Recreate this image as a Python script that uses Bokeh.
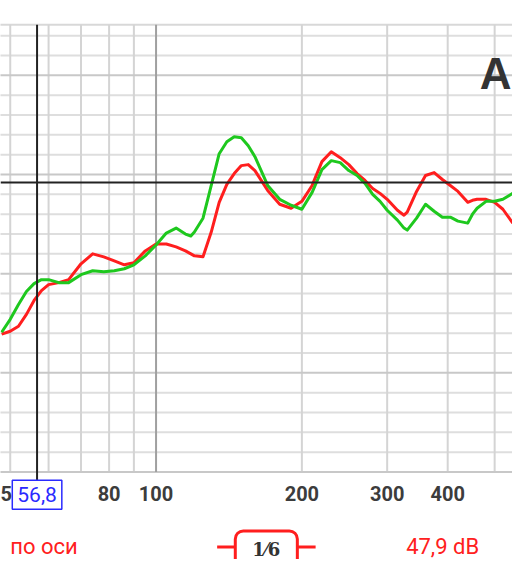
from bokeh.plotting import figure
from bokeh.models import Range1d, FixedTicker, Span, Label, LogAxis, NumeralTickFormatter
from bokeh.embed import file_html
from bokeh.resources import INLINE

# frequency (Hz)
freq = [48, 50, 52, 54, 56, 58, 60, 63, 66, 70, 74, 78, 82, 86, 90, 95, 100,
        105, 110, 115, 118, 120, 125, 130, 135, 140, 145, 150, 155, 160, 170,
        180, 190, 200, 210, 220, 230, 240, 250, 260, 270, 280, 290, 300, 315,
        325, 330, 345, 360, 375, 390, 405, 420, 440, 450, 460, 480, 500, 520, 545]

# green curve (dB)
green = [34.1, 35.4, 36.9, 38.2, 39.0, 39.4, 39.4, 39.1, 39.1, 39.9, 40.3, 40.2,
         40.3, 40.5, 40.9, 41.8, 42.9, 44.1, 44.6, 44.0, 43.8, 44.2, 45.6, 48.9,
         52.1, 53.3, 53.8, 53.7, 52.9, 51.8, 48.9, 47.5, 46.9, 46.5, 48.2, 50.5,
         51.4, 51.2, 50.4, 49.9, 49.1, 48.0, 47.3, 46.4, 45.4, 44.6, 44.4, 45.6,
         47.0, 46.3, 45.7, 45.7, 45.3, 45.1, 46.0, 46.6, 47.3, 47.3, 47.5, 48.1]

# red curve (dB)
red = [33.9, 34.2, 34.7, 35.9, 37.3, 38.3, 38.9, 39.1, 39.4, 41.0, 42.0, 41.7,
       41.3, 40.9, 41.1, 42.3, 43.0, 43.0, 42.7, 42.3, 42.0, 41.8, 41.7, 44.2,
       47.2, 49.0, 50.1, 50.9, 51.0, 50.4, 48.4, 47.0, 46.6, 47.3, 48.9, 51.3,
       52.3, 51.7, 51.0, 50.1, 49.4, 48.6, 48.1, 47.5, 46.4, 45.9, 46.2, 48.3,
       49.9, 50.2, 49.5, 48.9, 48.3, 47.2, 47.4, 47.5, 47.5, 47.2, 46.5, 45.1]

x_ticks = [50, 80, 100, 200, 300, 400]
x_minor_grid = [50, 60, 70, 80, 90, 200, 300, 400, 500]
x_major_grid = [100]
y_minor_grid = [22, 24, 26, 28, 32, 34, 36, 38, 42, 44, 46, 48, 52, 54, 56, 58, 62, 64]
y_major_grid = [20, 30, 40, 50, 60]
cursor_freq = 56.8
cursor_level = 49.19
cursor_label = "56,8"
level_label = "47,9 dB"
curve_label = "по оси"
smoothing_label = "1⁄6"
title_text = "А"

F_MIN, F_MAX = 47.74, 544.3
DB_MIN, DB_MAX = 11.18, 67.55
GRID_BOTTOM, GRID_TOP = 20.0, 65.1

p = figure(width=512, height=559, x_axis_type="log",
           x_axis_location=None, y_axis_location=None,
           x_range=Range1d(F_MIN, F_MAX), y_range=Range1d(DB_MIN, DB_MAX),
           output_backend="svg", toolbar_location=None, min_border=0)
p.outline_line_color = None
p.background_fill_color = "white"
p.border_fill_color = "white"
for g in p.grid:
    g.visible = False

# horizontal grid lines
p.segment(x0=[40] * len(y_minor_grid), y0=y_minor_grid, x1=[600] * len(y_minor_grid),
          y1=y_minor_grid, line_color="#dedede", line_width=2)
p.segment(x0=[40], y0=[GRID_TOP], x1=[600], y1=[GRID_TOP], line_color="#d8d8d8", line_width=2)
# vertical grid lines
p.segment(x0=x_minor_grid, y0=[GRID_BOTTOM] * len(x_minor_grid), x1=x_minor_grid,
          y1=[GRID_TOP] * len(x_minor_grid), line_color="#d4d4d4", line_width=2)
p.segment(x0=[40] * len(y_major_grid), y0=y_major_grid, x1=[600] * len(y_major_grid),
          y1=y_major_grid, line_color="#c8c8c8", line_width=2)
p.segment(x0=x_major_grid, y0=[GRID_BOTTOM], x1=x_major_grid, y1=[GRID_TOP],
          line_color="#a0a0a0", line_width=2)

# axis (tick labels only)
ax = LogAxis(fixed_location=GRID_BOTTOM, ticker=FixedTicker(ticks=x_ticks),
             formatter=NumeralTickFormatter(format="0"))
ax.axis_line_color = None
ax.major_tick_line_color = None
ax.minor_tick_line_color = None
ax.major_tick_out = 0
ax.major_tick_in = 0
ax.major_label_standoff = 14
ax.major_label_text_font = "Roboto"
ax.major_label_text_font_style = "bold"
ax.major_label_text_font_size = "20px"
ax.major_label_text_color = "#3c3c3c"
p.add_layout(ax, "below")

# curves
p.line(freq, red, line_color="#ff1e1e", line_width=3, line_join="round")
p.line(freq, green, line_color="#1ec81e", line_width=3, line_join="round")

# cursor
p.segment(x0=[cursor_freq], y0=[GRID_TOP], x1=[cursor_freq], y1=[19.0],
          line_color="#222222", line_width=2)
p.add_layout(Span(location=cursor_level, dimension="width", line_color="#222222", line_width=2))
p.add_layout(Label(x=cursor_freq, y=17.7, text=cursor_label, text_align="center",
                   text_baseline="middle", text_color="#2a2aff", text_font="Roboto",
                   text_font_size="21px", border_line_color="#2a2aff", border_line_width=1.5,
                   background_fill_color="white",
                   padding=dict(left=5, right=5, top=7, bottom=7)))

# title letter
p.add_layout(Label(x=541.7, y=60.2, text=title_text, text_align="right",
                   text_baseline="alphabetic", text_color="#333333", text_font="Liberation Sans",
                   text_font_style="bold", text_font_size="44px"))

# bottom row
p.add_layout(Label(x=50.0, y=12.5, text=curve_label, text_align="left", text_baseline="middle",
                   text_color="#ff2020", text_font="Roboto", text_font_size="22px"))
p.add_layout(Label(x=328.3, y=12.5, text=level_label, text_align="left", text_baseline="middle",
                   text_color="#ff2020", text_font="Roboto", text_font_size="22px"))
p.segment(x0=[133.7], y0=[12.45], x1=[213.5], y1=[12.45], line_color="#ff1e1e", line_width=3)
p.add_layout(Label(x=168.9, y=12.2, text=smoothing_label, text_align="center", text_baseline="middle",
                   text_color="#333333", text_font="DejaVu Serif", text_font_style="bold",
                   text_font_size="18px", border_line_color="#ff1e1e", border_line_width=3,
                   background_fill_color="white",
                   padding=dict(left=17, right=17, top=8, bottom=8), border_radius=8))

open("out.html", "w").write(file_html(p, INLINE))
